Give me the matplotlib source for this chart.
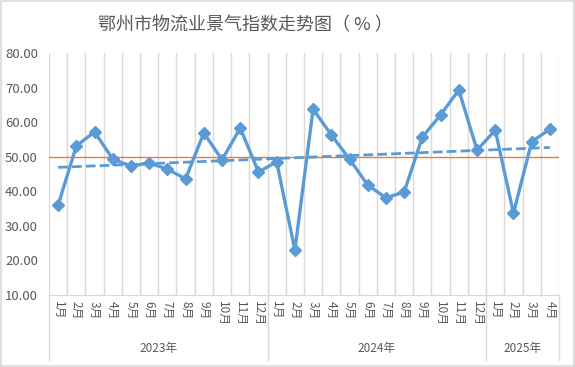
import numpy as np
import matplotlib.pyplot as plt
import matplotlib.transforms as mtransforms

plt.rcParams['font.family'] = ['Noto Sans CJK SC', 'DejaVu Sans']

# data
months = [f'{m}月' for m in range(1, 13)] * 2 + [f'{m}月' for m in range(1, 5)]
years = ['2023年', '2024年', '2025年']
year_counts = [12, 12, 4]
index_values = [36.0, 53.1, 57.2, 49.3, 47.3, 48.2, 46.4, 43.6, 56.9, 49.1, 58.3, 45.6,
                48.5, 23.0, 63.8, 56.3, 49.3, 41.8, 38.1, 39.8, 55.7, 62.1, 69.3, 51.9,
                57.7, 33.7, 54.3, 58.0]
baseline = 50
y_ticks = [10, 20, 30, 40, 50, 60, 70, 80]

blue = '#5B9BD5'
grey_text = '#595959'
grid_col = '#D9D9D9'

fig = plt.figure(figsize=(5.75, 3.67), dpi=100)
ax = fig.add_axes([49 / 575, 1 - 295 / 367, 510 / 575, 242 / 367])

x = np.arange(len(index_values))
ax.set_xlim(-0.5, len(x) - 0.5)
ax.set_ylim(10, 80)

# category gridlines
for b in np.arange(-0.5, len(x), 1.0):
    ax.axvline(b, color=grid_col, lw=1, zorder=0)

ax.axhline(baseline, color='#ED7D31', lw=1, zorder=1)

# linear trendline
coef = np.polyfit(x, index_values, 1)
ax.plot(x, np.polyval(coef, x), color=blue, lw=2, ls=(0, (3.5, 1.5)), zorder=2)

ax.plot(x, index_values, color=blue, lw=2.4, marker='D', markersize=6,
        markerfacecolor=blue, markeredgecolor=blue, zorder=3)

for s in ['top', 'right', 'left']:
    ax.spines[s].set_visible(False)
ax.spines['bottom'].set_color(grid_col)

ax.set_yticks(y_ticks)
ax.set_yticklabels([f'{v:.2f}' for v in y_ticks], fontsize=9.5, color=grey_text)
ax.tick_params(axis='y', length=0, pad=8)
ax.set_xticks([])

# month labels (vertical), year labels and separators
trans = mtransforms.blended_transform_factory(ax.transData, ax.transAxes)
for i, m in enumerate(months):
    ax.text(i, -0.025, m, rotation=-90, ha='center', va='top', fontsize=8.5,
            color=grey_text, transform=trans)

start = 0
bounds = [-0.5]
for yr, n in zip(years, year_counts):
    center = start + (n - 1) / 2
    ax.text(center, -0.223, yr, ha='center', va='center', fontsize=8.5,
            color=grey_text, transform=trans)
    start += n
    bounds.append(start - 0.5)
for b in bounds:
    ax.plot([b, b], [0, -0.27], color=grid_col, lw=1, transform=trans, clip_on=False)

fig.text(245 / 575, 1 - 25 / 367, '鄂州市物流业景气指数走势图（ % ）', ha='center', va='center',
         fontsize=13, color=grey_text)

# outer border
fig.patches.append(plt.Rectangle((0.001, 0.002), 0.997, 0.995, transform=fig.transFigure,
                                 fill=False, edgecolor=grid_col, lw=1.2))

fig.savefig('out.png', dpi=100)
